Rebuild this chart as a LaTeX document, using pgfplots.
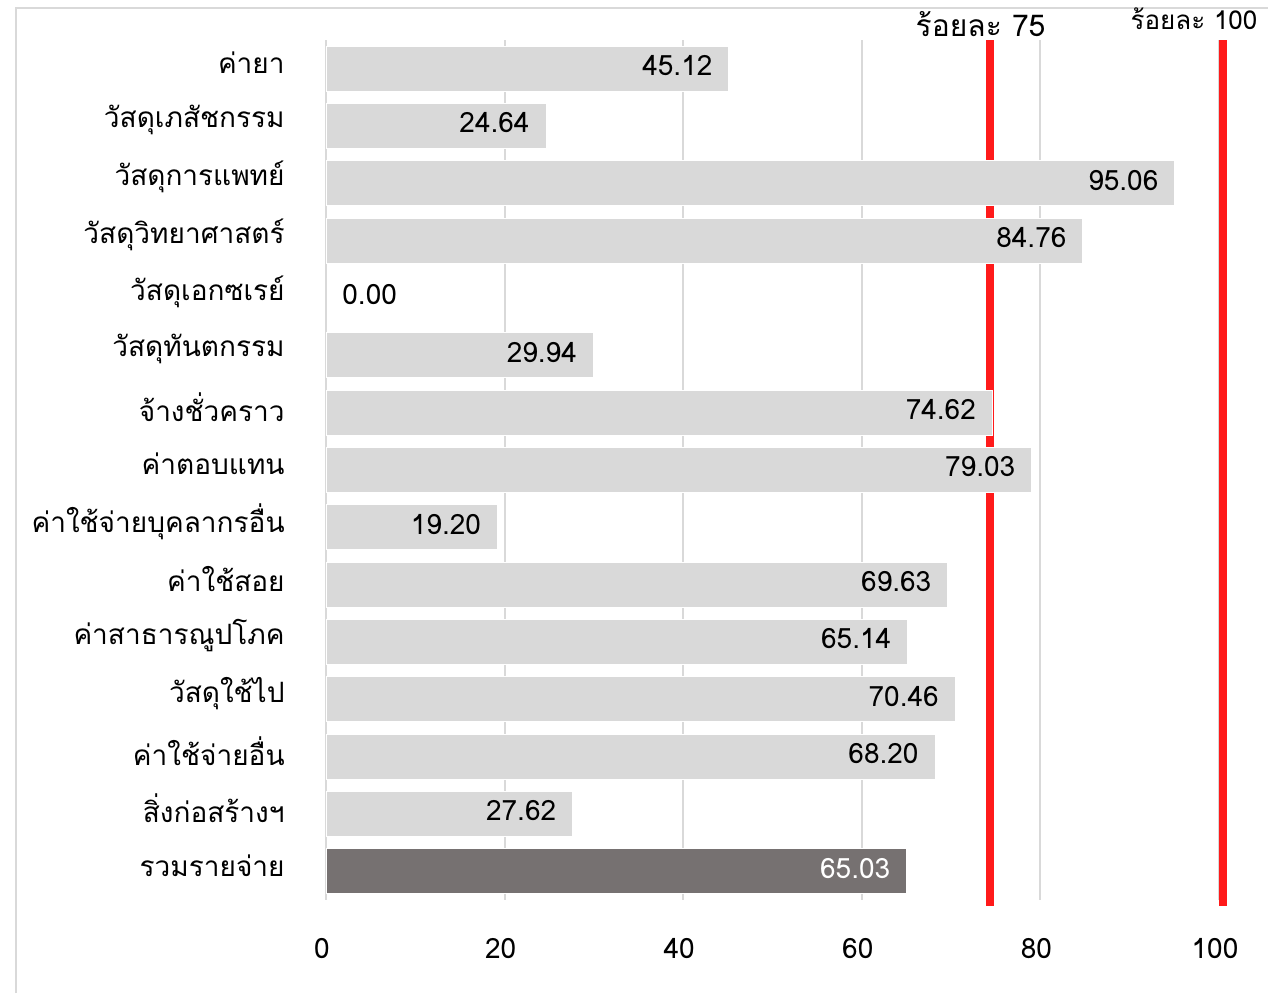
\documentclass[border=0pt]{standalone}
\usepackage{pgfplots}
\pgfplotsset{compat=1.18}
\usepackage{fontspec}
\setmainfont[Script=Thai]{Loma}
\definecolor{barlight}{HTML}{D9D9D9}
\definecolor{bardark}{HTML}{767171}
\definecolor{gridc}{HTML}{D9D9D9}
\definecolor{redl}{HTML}{FF1A1A}
\begin{document}
\begin{tikzpicture}[x=0.5pt,y=0.5pt]
\useasboundingbox (0,0) rectangle (1268,993);
\draw[color=gridc, line width=1.2pt] (16,0) -- (16,985) -- (1268,985);
\begin{axis}[
  at={(163pt,46.5pt)}, anchor=south west,
  scale only axis, width=446.5pt, height=430pt,
  bar width=22.5pt,
  xmin=0, xmax=100, ymin=-0.5, ymax=14.5,
  y dir=reverse,
  axis line style={draw=none},
  xmajorgrids, grid style={color=gridc, line width=1pt},
  xtick={0,20,40,60,80,100},
  ytick={0,...,14},
  yticklabels={ค่ายา,วัสดุเภสัชกรรม,วัสดุการแพทย์,วัสดุวิทยาศาสตร์,วัสดุเอกซเรย์,วัสดุทันตกรรม,จ้างชั่วคราว,ค่าตอบแทน,ค่าใช้จ่ายบุคลากรอื่น\hspace{5pt},ค่าใช้สอย,ค่าสาธารณูปโภค\hspace{5pt},วัสดุใช้ไป,ค่าใช้จ่ายอื่น,สิ่งก่อสร้างฯ,รวมรายจ่าย},
  major tick length=0pt,
  tick style={draw=none},
  yticklabel style={inner sep=0pt, anchor=east, xshift=-20.5pt, yshift=3pt, font=\fontsize{14}{16}\selectfont},
  xticklabel style={inner sep=0pt, anchor=north, yshift=-19pt, xshift=-2pt, font=\fontsize{14}{16}\selectfont},
  /pgf/number format/assume math mode=true,
  clip=false,
]
\addplot[sharp plot, color=redl, line width=4pt, mark=none] coordinates {(74.4,-0.5) (74.4,14.6)};
\addplot[sharp plot, color=redl, line width=4pt, mark=none] coordinates {(100.4,-0.5) (100.4,14.6)};
\addplot[xbar, bar shift=0pt, fill=barlight, draw=white, line width=0.5pt, nodes near coords, point meta=x,
  nodes near coords style={/pgf/number format/.cd, fixed, fixed zerofill, precision=2, /tikz/.cd, anchor=east, inner sep=0pt, xshift=-8pt, yshift=1.5pt, font=\fontsize{14}{16}\selectfont, text=black}] coordinates {
(45.12,0) (24.64,1) (95.06,2) (84.76,3) (29.94,5) (74.62,6) (79.03,7) (19.20,8) (69.63,9) (65.14,10) (70.46,11) (68.20,12) (27.62,13)};
\addplot[xbar, bar shift=0pt, fill=none, draw=none, nodes near coords, point meta=x,
  nodes near coords style={/pgf/number format/.cd, fixed, fixed zerofill, precision=2, /tikz/.cd, anchor=west, inner sep=0pt, xshift=8pt, yshift=1.5pt, font=\fontsize{14}{16}\selectfont, text=black}] coordinates {(0,4)};
\addplot[xbar, bar shift=0pt, fill=bardark, draw=white, line width=0.5pt, nodes near coords, point meta=x,
  nodes near coords style={/pgf/number format/.cd, fixed, fixed zerofill, precision=2, /tikz/.cd, anchor=east, inner sep=0pt, xshift=-8pt, yshift=1.5pt, font=\fontsize{14}{16}\selectfont, text=white}] coordinates {(65.03,14)};
\node[font=\fontsize{15}{17}\selectfont, inner sep=0pt] at (axis cs:73.3,-0.77) {ร้อยละ 75};
\node[font=\fontsize{13}{15}\selectfont, inner sep=0pt] at (axis cs:97.2,-0.87) {ร้อยละ 100};
\end{axis}
\end{tikzpicture}
\end{document}
